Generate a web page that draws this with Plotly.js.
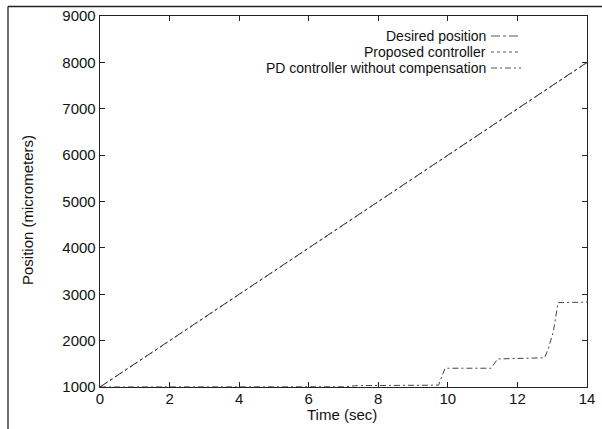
<!DOCTYPE html>
<html><head><meta charset="utf-8">
<script src="https://cdn.plot.ly/plotly-3.0.1.min.js"></script>
<style>html,body{margin:0;padding:0;background:#fff;}#chart{width:602px;height:429px;}</style>
</head><body><div id="chart"></div>
<script>
const timeDesired = [0, 2, 4, 6, 8, 10, 12, 14];
const desiredPosition = [1000, 2000, 3000, 4000, 5000, 6000, 7000, 8000];
const timeProposed = [0, 1, 2, 3, 4, 5, 6, 7, 8, 9, 10, 11, 12, 13, 14];
const proposedPosition = [1000, 1490, 1995, 2495, 2995, 3495, 3995, 4495, 4995, 5495, 5995, 6495, 6995, 7495, 7995];
const timePD = [0, 7.0, 7.4, 9.73, 9.92, 11.24, 11.43, 12.78, 12.89, 13.03, 13.17, 14];
const pdPosition = [1000, 1005, 1030, 1040, 1405, 1405, 1605, 1630, 1830, 2190, 2820, 2830];
const xTicks = [0, 2, 4, 6, 8, 10, 12, 14];
const yTicks = [1000, 2000, 3000, 4000, 5000, 6000, 7000, 8000, 9000];
const legendLabels = ["Desired position", "Proposed controller", "PD controller without compensation"];

const traces = [
  {x: timeDesired, y: desiredPosition, mode: 'lines', name: legendLabels[0],
   line: {color: '#333', width: 1, dash: 'dashdot'}},
  {x: timeProposed, y: proposedPosition, mode: 'lines', name: legendLabels[1],
   line: {color: '#444', width: 1, dash: 'dot'}},
  {x: timePD, y: pdPosition, mode: 'lines', name: legendLabels[2],
   line: {color: '#444', width: 1, dash: '6px,3px,2px,3px'}}
];

const font = {family: 'Liberation Sans, Arial, sans-serif', size: 15, color: '#111'};
const legendFont = {family: 'Liberation Sans, Arial, sans-serif', size: 14, color: '#111'};
const L = 100, R = 15, T = 16, B = 42, W = 602, H = 429;
const pw = W - L - R, ph = H - T - B;
const px = v => (v - L) / pw;
const py = v => (H - B - v) / ph;

const legendDash = ['dashdot', 'dot', '6px,3px,2px,3px'];
const annotations = [
  {text: 'Time (sec)', xref: 'paper', yref: 'paper', x: px(342), y: py(414), showarrow: false, font: font, xanchor: 'center', yanchor: 'middle'},
  {text: 'Position (micrometers)', xref: 'paper', yref: 'paper', x: px(27), y: py(210), showarrow: false, font: font, textangle: -90, xanchor: 'center', yanchor: 'middle'}
];
const shapes = [
  {type: 'line', xref: 'paper', yref: 'paper', x0: px(8), x1: px(8), y0: py(6.5), y1: py(440), line: {color: '#222', width: 1.3}},
  {type: 'line', xref: 'paper', yref: 'paper', x0: px(8), x1: px(610), y0: py(6.5), y1: py(6.5), line: {color: '#222', width: 1.3}}
];
const legendY = [36, 52, 68];
legendLabels.forEach((lab, i) => {
  annotations.push({text: lab, xref: 'paper', yref: 'paper', x: px(487), y: py(legendY[i]), showarrow: false, font: legendFont, xanchor: 'right', yanchor: 'middle', borderpad: 0});
  shapes.push({type: 'line', xref: 'paper', yref: 'paper', x0: px(491), x1: px(521), y0: py(legendY[i]), y1: py(legendY[i]), line: {color: '#555', width: 1, dash: legendDash[i]}});
});

const axisCommon = {showgrid: false, zeroline: false, showline: true, linecolor: '#222', linewidth: 1.3,
  mirror: 'ticks', ticks: 'inside', ticklen: 5, tickcolor: '#222', tickwidth: 1, tickfont: font};

const layout = {
  width: W, height: H, margin: {l: L, r: R, t: T, b: B, pad: 0},
  paper_bgcolor: '#fff', plot_bgcolor: '#fff', showlegend: false,
  xaxis: Object.assign({}, axisCommon, {range: [0, 14], tickvals: xTicks, ticktext: xTicks.map(String), ticklabelstandoff: -2}),
  yaxis: Object.assign({}, axisCommon, {range: [1000, 9000], tickvals: yTicks, ticktext: yTicks.map(String)}),
  annotations: annotations, shapes: shapes
};
Plotly.newPlot('chart', traces, layout, {displayModeBar: false, staticPlot: true});
</script></body></html>
